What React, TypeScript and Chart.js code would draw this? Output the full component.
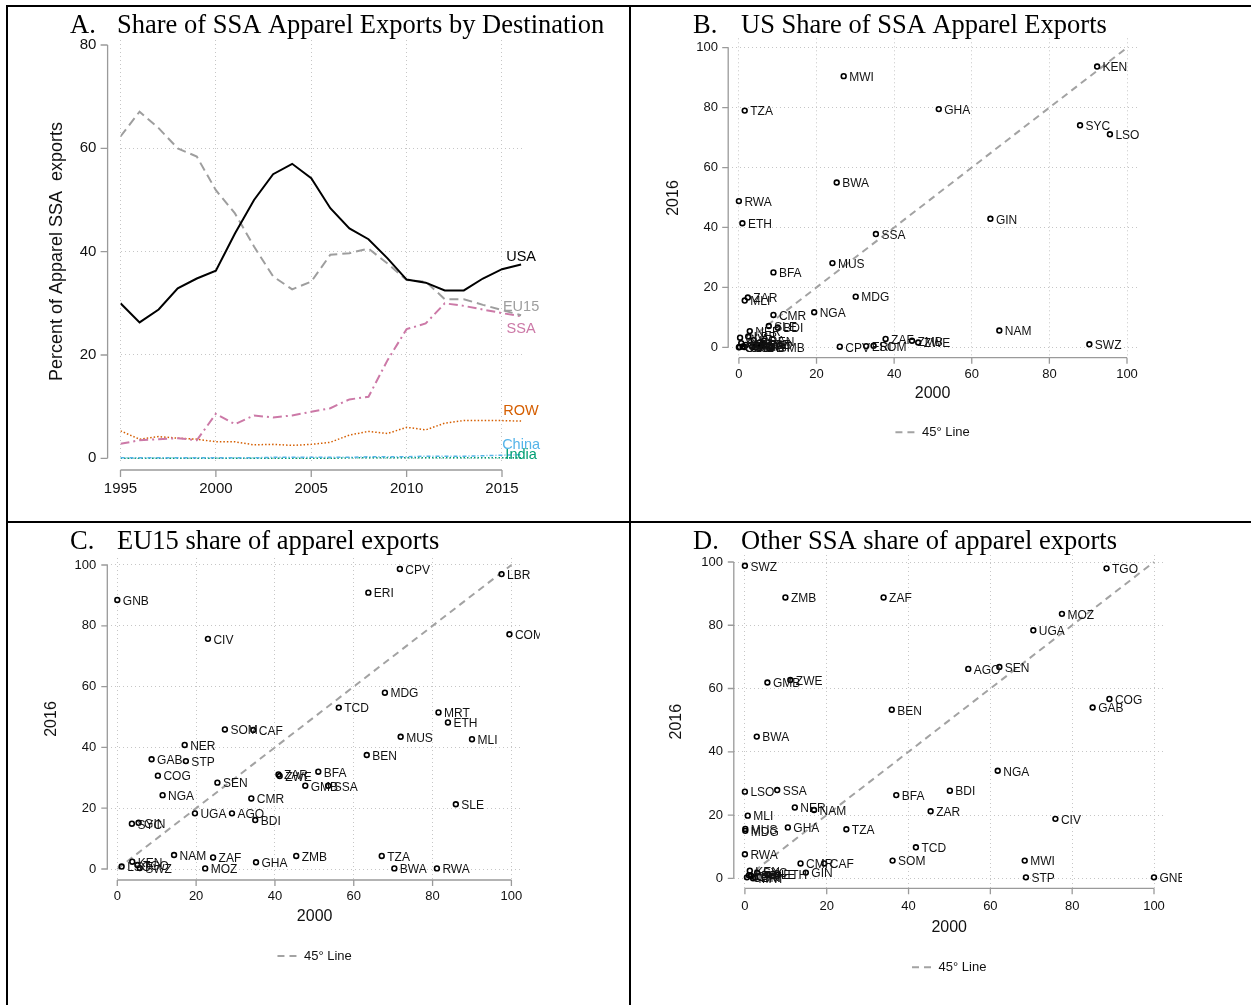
import React, { useEffect, useRef } from 'react';
import { Chart, registerables } from 'chart.js';

Chart.register(...registerables);

// ---------------- Panel A data ----------------
const years = [1995, 1996, 1997, 1998, 1999, 2000, 2001, 2002, 2003, 2004, 2005, 2006, 2007, 2008, 2009, 2010, 2011, 2012, 2013, 2014, 2015, 2016];
const seriesNames = ['USA', 'EU15', 'SSA', 'ROW', 'China', 'India'];
const usaShare = [30.0, 26.3, 28.8, 32.9, 34.8, 36.3, 43.5, 50.0, 55.0, 57.0, 54.2, 48.4, 44.5, 42.4, 38.7, 34.6, 34.0, 32.5, 32.5, 34.8, 36.6, 37.5];
const eu15Share = [62.3, 67.1, 63.9, 60.0, 58.4, 51.9, 47.4, 41.0, 35.2, 32.7, 34.2, 39.4, 39.7, 40.6, 37.7, 34.5, 34.2, 30.8, 30.8, 29.7, 28.7, 27.7];
const ssaShare = [2.8, 3.5, 3.7, 3.9, 3.5, 8.6, 6.6, 8.3, 7.9, 8.3, 9.0, 9.7, 11.4, 11.9, 19.0, 25.0, 26.1, 30.0, 29.5, 28.8, 28.1, 27.5];
const rowShare = [5.3, 3.7, 4.2, 3.9, 3.7, 3.2, 3.2, 2.6, 2.7, 2.5, 2.7, 3.1, 4.5, 5.2, 4.8, 6.0, 5.5, 6.8, 7.3, 7.3, 7.3, 7.2];
const chinaShare = [0.1, 0.1, 0.1, 0.1, 0.1, 0.1, 0.1, 0.1, 0.2, 0.2, 0.2, 0.2, 0.2, 0.3, 0.3, 0.3, 0.4, 0.4, 0.4, 0.5, 0.6, 0.7];
const indiaShare = [0.0, 0.0, 0.0, 0.0, 0.0, 0.0, 0.0, 0.0, 0.0, 0.0, 0.0, 0.0, 0.1, 0.1, 0.1, 0.1, 0.1, 0.1, 0.1, 0.1, 0.1, 0.1];
const yearTicks = [1995, 2000, 2005, 2010, 2015];
const percentTicks = [0, 20, 40, 60, 80];

// ---------------- Panel B data (US share) ----------------
const usCountries = ['KEN', 'MWI', 'TZA', 'GHA', 'SYC', 'LSO', 'BWA', 'RWA', 'ETH', 'GIN', 'SSA', 'MUS', 'BFA', 'ZAR', 'MLI', 'MDG', 'CMR', 'NGA', 'SLE', 'BDI', 'NER', 'BEN', 'GMB', 'CIV', 'COG', 'LBR', 'UGA', 'CAF', 'TGO', 'COM', 'GNB', 'AGO', 'MOZ', 'MRT', 'STP', 'TCD', 'GAB', 'CPV', 'ERI', 'SOM', 'ZAF', 'ZMB', 'ZWE', 'NAM', 'SWZ'];
const usShare2000 = [92.3, 27.0, 1.5, 51.5, 87.9, 95.6, 25.2, 0.0, 0.9, 64.8, 35.3, 24.1, 8.9, 2.3, 1.5, 30.1, 8.9, 19.4, 7.7, 10.0, 2.8, 6.5, 8.5, 0.3, 0.6, 2.4, 3.8, 1.8, 1.0, 0.2, 0.0, 3.4, 4.8, 5.6, 4.2, 6.0, 1.4, 26.0, 32.8, 34.7, 37.8, 44.6, 46.2, 67.1, 90.3];
const usShare2016 = [93.7, 90.5, 79.0, 79.5, 74.1, 71.1, 55.0, 48.8, 41.4, 42.9, 37.8, 28.1, 25.0, 16.6, 15.6, 16.9, 10.8, 11.7, 7.1, 6.6, 5.4, 2.2, 0.1, 3.2, 1.4, 3.6, 2.4, 0.8, 0.3, 0.1, 0.0, 0.2, 0.9, 0.3, 0.0, 1.1, 0.1, 0.2, 0.4, 0.5, 2.8, 2.2, 1.6, 5.6, 1.0];

// ---------------- Panel C data (EU15 share) ----------------
const euCountries = ['CPV', 'LBR', 'ERI', 'GNB', 'COM', 'CIV', 'MDG', 'TCD', 'MRT', 'ETH', 'SOM', 'CAF', 'MUS', 'MLI', 'NER', 'BEN', 'GAB', 'STP', 'COG', 'ZAR', 'ZWE', 'BFA', 'SEN', 'GMB', 'SSA', 'NGA', 'CMR', 'SLE', 'UGA', 'AGO', 'BDI', 'SYC', 'GIN', 'NAM', 'ZAF', 'ZMB', 'TZA', 'GHA', 'MOZ', 'BWA', 'RWA', 'LSO', 'KEN', 'TGO', 'SWZ'];
const euShare2000 = [71.7, 97.5, 63.7, 0.0, 99.5, 23.0, 67.9, 56.2, 81.5, 83.9, 27.3, 34.5, 71.9, 90.0, 17.1, 63.3, 8.7, 17.4, 10.3, 40.9, 41.2, 51.0, 25.4, 47.7, 53.5, 11.5, 34.0, 85.9, 19.7, 29.1, 35.0, 3.7, 5.4, 14.4, 24.3, 45.4, 67.1, 35.2, 22.3, 70.3, 81.1, 1.1, 3.8, 5.1, 5.7];
const euShare2016 = [98.7, 97.0, 90.9, 88.5, 77.2, 75.7, 58.0, 53.1, 51.5, 48.2, 45.9, 45.7, 43.5, 42.7, 40.8, 37.5, 36.1, 35.5, 30.7, 31.1, 30.6, 32.0, 28.4, 27.4, 27.4, 24.3, 23.2, 21.3, 18.3, 18.3, 16.1, 14.9, 15.2, 4.6, 3.8, 4.3, 4.3, 2.2, 0.2, 0.2, 0.2, 0.8, 2.4, 1.3, 0.3];

// ---------------- Panel D data (other SSA share) ----------------
const ssaCountries = ['SWZ', 'TGO', 'ZMB', 'ZAF', 'MOZ', 'UGA', 'AGO', 'SEN', 'ZWE', 'GMB', 'COG', 'GAB', 'BEN', 'BWA', 'NGA', 'LSO', 'SSA', 'BDI', 'BFA', 'NER', 'NAM', 'ZAR', 'MLI', 'CIV', 'MUS', 'MDG', 'GHA', 'TZA', 'TCD', 'RWA', 'SOM', 'MWI', 'CMR', 'CAF', 'GIN', 'STP', 'GNB', 'KEN', 'ETH', 'LBR', 'COM', 'CPV', 'ERI', 'SYC', 'MRT', 'SLE'];
const ssaShare2000 = [0.0, 88.4, 9.9, 33.9, 77.5, 70.5, 54.6, 62.2, 11.1, 5.5, 89.1, 85.0, 35.9, 2.9, 61.8, 0.0, 7.9, 50.1, 37.0, 12.2, 16.9, 45.4, 0.7, 75.9, 0.1, 0.1, 10.5, 24.8, 41.8, 0.0, 36.1, 68.4, 13.6, 19.4, 14.9, 68.7, 100.0, 1.2, 8.0, 1.0, 0.5, 1.5, 2.5, 3.0, 2.0, 5.5];
const ssaShare2016 = [98.8, 98.0, 88.8, 88.8, 83.6, 78.4, 66.2, 66.8, 62.7, 61.9, 56.7, 54.0, 53.3, 44.8, 34.0, 27.4, 27.9, 27.7, 26.3, 22.4, 21.6, 21.2, 19.8, 18.8, 15.6, 15.0, 16.1, 15.5, 9.8, 7.6, 5.6, 5.6, 4.7, 4.7, 1.8, 0.3, 0.3, 2.4, 1.2, 1.0, 0.3, 0.8, 0.2, 1.8, 0.0, 1.2];

const shareTicks = [0, 20, 40, 60, 80, 100];

// ---------------- styles ----------------
const SANS = '"Liberation Sans", Arial, Helvetica, sans-serif';
const SERIF = '"Liberation Serif", "Times New Roman", serif';
const GRID = '#c6c6c6';
const AXIS = '#9a9a9a';
const INK = '#111111';
const TITLE_SIZE = 26.5;
const AXIS_TITLE_SIZE = 16;
const LEGEND_SIZE = 13;
const DIAG_COLOR = '#a3a3a3';
const DIAG_DASH = [7, 5];

const seriesStyles = [
  { color: '#000000', width: 2, dash: [] as number[] },
  { color: '#9e9e9e', width: 2, dash: [9, 5] },
  { color: '#CC79A7', width: 2, dash: [9, 4, 2, 4] },
  { color: '#D55E00', width: 1.5, dash: [1.5, 2] },
  { color: '#56B4E9', width: 1.5, dash: [4, 2, 1, 2] },
  { color: '#009E73', width: 1.5, dash: [1.5, 2] },
];
// where the end-of-line labels sit (percent units) in panel A
const endLabelY = [39.0, 29.2, 25.1, 9.1, 2.5, 0.6];
const endLabelX = 2016;

Chart.defaults.font.family = SANS;

// ---------------- plugins ----------------
function makeDecorPlugin(cfg: any) {
  return {
    id: 'decor',
    afterDraw(chart: any) {
      const { ctx, chartArea } = chart;
      const xs = chart.scales.x;
      const ys = chart.scales.y;
      const ax = cfg.yAxisX ?? chartArea.left;
      const ay = cfg.xAxisY ?? chartArea.bottom;
      const xt: number[] = cfg.xTicks;
      const yt: number[] = cfg.yTicks;
      ctx.save();
      ctx.strokeStyle = AXIS;
      ctx.lineWidth = 1.3;
      ctx.setLineDash([]);
      ctx.beginPath();
      ctx.moveTo(ax, ys.getPixelForValue(yt[0]));
      ctx.lineTo(ax, ys.getPixelForValue(yt[yt.length - 1]));
      yt.forEach((v) => {
        const py = ys.getPixelForValue(v);
        ctx.moveTo(ax - cfg.tickLen, py);
        ctx.lineTo(ax, py);
      });
      ctx.moveTo(xs.getPixelForValue(xt[0]), ay);
      ctx.lineTo(xs.getPixelForValue(xt[xt.length - 1]), ay);
      xt.forEach((v) => {
        const px = xs.getPixelForValue(v);
        ctx.moveTo(px, ay);
        ctx.lineTo(px, ay + cfg.tickLen);
      });
      ctx.stroke();
      ctx.fillStyle = '#000';
      ctx.font = `${TITLE_SIZE}px ${SERIF}`;
      ctx.textAlign = 'left';
      ctx.textBaseline = 'alphabetic';
      ctx.fillText(cfg.letter, cfg.letterX, cfg.titleBaseline);
      ctx.fillText(cfg.title, cfg.titleX, cfg.titleBaseline);
      ctx.restore();
    },
  };
}

function makePointLabelPlugin(labels: string[], datasetIndex: number, clipRight: number) {
  return {
    id: 'pointLabels',
    afterDatasetsDraw(chart: any) {
      const ctx = chart.ctx;
      const meta = chart.getDatasetMeta(datasetIndex);
      ctx.save();
      ctx.beginPath();
      ctx.rect(0, 0, clipRight, chart.height);
      ctx.clip();
      ctx.font = `12px ${SANS}`;
      ctx.fillStyle = INK;
      ctx.textAlign = 'left';
      ctx.textBaseline = 'middle';
      meta.data.forEach((el: any, i: number) => {
        ctx.fillText(labels[i], el.x + 5.5, el.y + 1.5);
      });
      ctx.restore();
    },
  };
}

function makeEndLabelPlugin() {
  return {
    id: 'endLabels',
    afterDatasetsDraw(chart: any) {
      const ctx = chart.ctx;
      const xs = chart.scales.x;
      const ys = chart.scales.y;
      ctx.save();
      ctx.font = `14.5px ${SANS}`;
      ctx.textAlign = 'center';
      ctx.textBaseline = 'middle';
      seriesNames.forEach((name, i) => {
        ctx.fillStyle = seriesStyles[i].color;
        ctx.fillText(name, xs.getPixelForValue(endLabelX), ys.getPixelForValue(endLabelY[i]));
      });
      ctx.restore();
    },
  };
}

// ---------------- Panel A config ----------------
function buildLineConfig(): any {
  const W = 630, H = 520;
  const x1995 = 120.5, x2015 = 502, y0 = 458.3, y80 = 45;
  const left = 120.5, right = 524, top = 40, bottom = 463;
  const pxYear = (x2015 - x1995) / 20;
  const pxPct = (y0 - y80) / 80;
  const xMin = 1995 + (left - x1995) / pxYear;
  const xMax = 1995 + (right - x1995) / pxYear;
  const yMin = -(bottom - y0) / pxPct;
  const yMax = 80 + (y80 - top) / pxPct;
  const xScaleH = 40;
  const allSeries = [usaShare, eu15Share, ssaShare, rowShare, chinaShare, indiaShare];
  const yTitleSize = 18;
  return {
    type: 'line',
    data: {
      datasets: allSeries.map((vals, i) => ({
        label: seriesNames[i],
        data: years.map((yr, k) => ({ x: yr, y: vals[k] })),
        borderColor: seriesStyles[i].color,
        borderWidth: seriesStyles[i].width,
        borderDash: seriesStyles[i].dash,
        pointRadius: 0,
        fill: false,
        tension: 0,
      })),
    },
    options: {
      animation: false,
      responsive: false,
      maintainAspectRatio: false,
      events: [],
      layout: { padding: { left: 0, top, right: W - right, bottom: H - bottom - xScaleH } },
      scales: {
        x: {
          type: 'linear',
          min: xMin,
          max: xMax,
          afterBuildTicks: (s: any) => { s.ticks = yearTicks.map((v) => ({ value: v })); },
          afterFit: (s: any) => { s.height = xScaleH; },
          grid: { color: GRID, lineWidth: 1, drawTicks: false },
          border: { display: false, dash: [1, 3] },
          ticks: { padding: 17, font: { size: 15, family: SANS }, color: INK, maxRotation: 0, autoSkip: false, callback: (v: any) => String(v) },
        },
        y: {
          type: 'linear',
          min: yMin,
          max: yMax,
          afterBuildTicks: (s: any) => { s.ticks = percentTicks.map((v) => ({ value: v })); },
          afterFit: (s: any) => { s.width = left; },
          grid: { color: (c: any) => (c.tick && c.tick.value === 80 ? 'rgba(0,0,0,0)' : GRID), lineWidth: 1, drawTicks: false },
          border: { display: false, dash: [1, 3] },
          ticks: { padding: left - 96.4, font: { size: 15, family: SANS }, color: INK, autoSkip: false, callback: (v: any) => String(v) },
          title: {
            display: true,
            text: 'Percent of Apparel SSA  exports',
            color: INK,
            font: { size: yTitleSize, family: SANS },
            padding: { top: 57 - (yTitleSize * 1.2) / 2, bottom: 0 },
          },
        },
      },
      plugins: { legend: { display: false }, tooltip: { enabled: false } },
    },
    plugins: [
      makeDecorPlugin({
        yAxisX: 107.6, xAxisY: 470, tickLen: 7, xTicks: yearTicks, yTicks: percentTicks,
        letter: 'A.', letterX: 70, title: 'Share of SSA Apparel Exports by Destination', titleX: 117, titleBaseline: 33,
      }),
      makeEndLabelPlugin(),
    ],
  };
}

// ---------------- Scatter panels ----------------
type ScatterPanel = {
  letter: string; title: string;
  countries: string[]; share2000: number[]; share2016: number[];
  width: number; height: number;
  x0: number; x100: number; y0: number; y100: number;
  left: number; right: number; top: number; bottom: number;
  yTickPad: number; xTickPad: number; xTitleCenter: number; yTitleCenter: number; legendCenter: number;
  clipRight: number; letterX: number; titleX: number; titleBaseline: number;
};

const panelB: ScatterPanel = {
  letter: 'B.', title: 'US Share of SSA Apparel Exports',
  countries: usCountries, share2000: usShare2000, share2016: usShare2016,
  width: 621, height: 520,
  x0: 108.9, x100: 497.0, y0: 347.3, y100: 47.7,
  left: 98.2, right: 507, top: 38.3, bottom: 357.7,
  yTickPad: 10.2, xTickPad: 8.5, xTitleCenter: 394, yTitleCenter: 43.6, legendCenter: 432.3,
  clipRight: 621, letterX: 63, titleX: 111, titleBaseline: 33,
};

const panelC: ScatterPanel = {
  letter: 'C.', title: 'EU15 share of apparel exports',
  countries: euCountries, share2000: euShare2000, share2016: euShare2016,
  width: 630, height: 485,
  x0: 117.3, x100: 511.4, y0: 349, y100: 45,
  left: 107.3, right: 522, top: 38, bottom: 360,
  yTickPad: 11, xTickPad: 8.9, xTitleCenter: 396.7, yTitleCenter: 51.4, legendCenter: 436,
  clipRight: 540, letterX: 70, titleX: 117, titleBaseline: 28.5,
};

const panelD: ScatterPanel = {
  letter: 'D.', title: 'Other SSA share of apparel exports',
  countries: ssaCountries, share2000: ssaShare2000, share2016: ssaShare2016,
  width: 621, height: 485,
  x0: 114.9, x100: 524, y0: 358.3, y100: 42,
  left: 103.8, right: 534.6, top: 35, bottom: 368.3,
  yTickPad: 10.8, xTickPad: 10.6, xTitleCenter: 407.3, yTitleCenter: 46.7, legendCenter: 447.3,
  clipRight: 552, letterX: 63, titleX: 111, titleBaseline: 28.5,
};

function buildScatterConfig(p: ScatterPanel): any {
  const xMin = ((p.left - p.x0) / (p.x100 - p.x0)) * 100;
  const xMax = ((p.right - p.x0) / (p.x100 - p.x0)) * 100;
  const yMin = ((p.y0 - p.bottom) / (p.y0 - p.y100)) * 100;
  const yMax = ((p.y0 - p.top) / (p.y0 - p.y100)) * 100;
  const lh = AXIS_TITLE_SIZE * 1.2;
  const xScaleH = p.xTitleCenter - p.bottom + lh / 2;
  const legendPad = p.legendCenter - (p.bottom + xScaleH) - LEGEND_SIZE / 2;
  const legendH = LEGEND_SIZE + legendPad + 10;
  const padBottom = p.height - p.bottom - xScaleH - legendH;
  const tickFont = { size: 13, family: SANS };
  return {
    type: 'scatter',
    data: {
      datasets: [
        {
          type: 'line',
          label: '45° Line',
          data: [{ x: 0, y: 0 }, { x: 100, y: 100 }],
          borderColor: DIAG_COLOR,
          backgroundColor: DIAG_COLOR,
          borderWidth: 2,
          borderDash: DIAG_DASH,
          pointRadius: 0,
          pointStyle: 'line',
          fill: false,
          order: 1,
        },
        {
          label: 'countries',
          data: p.share2000.map((x, i) => ({ x, y: p.share2016[i] })),
          pointRadius: 2.4,
          pointBorderWidth: 1.6,
          borderColor: '#000',
          backgroundColor: 'rgba(255,255,255,0)',
          pointStyle: 'circle',
          order: 0,
        },
      ],
    },
    options: {
      animation: false,
      responsive: false,
      maintainAspectRatio: false,
      events: [],
      layout: { padding: { left: 0, top: p.top, right: p.width - p.right, bottom: padBottom } },
      scales: {
        x: {
          type: 'linear',
          min: xMin,
          max: xMax,
          afterBuildTicks: (s: any) => { s.ticks = shareTicks.map((v) => ({ value: v })); },
          afterFit: (s: any) => { s.height = xScaleH; },
          grid: { color: GRID, lineWidth: 1, drawTicks: false },
          border: { display: false, dash: [1, 3] },
          ticks: { padding: p.xTickPad, font: tickFont, color: INK, maxRotation: 0, autoSkip: false, callback: (v: any) => String(v) },
          title: { display: true, text: '2000', color: INK, font: { size: AXIS_TITLE_SIZE, family: SANS }, padding: { top: 0, bottom: 0 } },
        },
        y: {
          type: 'linear',
          min: yMin,
          max: yMax,
          afterBuildTicks: (s: any) => { s.ticks = shareTicks.map((v) => ({ value: v })); },
          afterFit: (s: any) => { s.width = p.left; },
          grid: { color: GRID, lineWidth: 1, drawTicks: false },
          border: { display: false, dash: [1, 3] },
          ticks: { padding: p.yTickPad, font: tickFont, color: INK, autoSkip: false, callback: (v: any) => String(v) },
          title: { display: true, text: '2016', color: INK, font: { size: AXIS_TITLE_SIZE, family: SANS }, padding: { top: p.yTitleCenter - lh / 2, bottom: 0 } },
        },
      },
      plugins: {
        tooltip: { enabled: false },
        legend: {
          position: 'bottom',
          fullSize: false,
          labels: {
            usePointStyle: true,
            pointStyleWidth: 20,
            padding: legendPad,
            color: INK,
            font: { size: LEGEND_SIZE, family: SANS },
            generateLabels: (chart: any) => {
              const items = Chart.defaults.plugins.legend.labels.generateLabels(chart);
              return items
                .filter((it: any) => it.datasetIndex === 0)
                .map((it: any) => ({ ...it, lineDash: DIAG_DASH, strokeStyle: DIAG_COLOR, lineWidth: 2, pointStyle: 'line' }));
            },
          },
        },
      },
    },
    plugins: [
      makeDecorPlugin({
        tickLen: 6, xTicks: shareTicks, yTicks: shareTicks,
        letter: p.letter, letterX: p.letterX, title: p.title, titleX: p.titleX, titleBaseline: p.titleBaseline,
      }),
      makePointLabelPlugin(p.countries, 1, p.clipRight),
    ],
  };
}

// ---------------- components ----------------
function ChartCanvas({ build, left, top, width, height }: { build: () => any; left: number; top: number; width: number; height: number }) {
  const ref = useRef<HTMLCanvasElement | null>(null);
  useEffect(() => {
    if (!ref.current) return;
    const chart = new Chart(ref.current, build());
    return () => chart.destroy();
  }, []);
  return (
    <canvas
      ref={ref}
      width={width}
      height={height}
      style={{ position: 'absolute', left, top, width, height, display: 'block' }}
    />
  );
}

const lineStyle = (l: number, t: number, w: number, h: number): React.CSSProperties => ({
  position: 'absolute', left: l, top: t, width: w, height: h, background: '#000', zIndex: 5,
});

export default function App() {
  return (
    <div style={{ position: 'absolute', left: 0, top: 0, width: 1251, height: 1005, overflow: 'hidden', background: '#fff' }}>
      <ChartCanvas build={buildLineConfig} left={0} top={0} width={630} height={520} />
      <ChartCanvas build={() => buildScatterConfig(panelB)} left={630} top={0} width={621} height={520} />
      <ChartCanvas build={() => buildScatterConfig(panelC)} left={0} top={520} width={630} height={485} />
      <ChartCanvas build={() => buildScatterConfig(panelD)} left={630} top={520} width={621} height={485} />
      <div style={lineStyle(6, 5, 2, 1000)} />
      <div style={lineStyle(6, 5, 1245, 2)} />
      <div style={lineStyle(629, 5, 2, 1000)} />
      <div style={lineStyle(6, 521, 1245, 2)} />
    </div>
  );
}
